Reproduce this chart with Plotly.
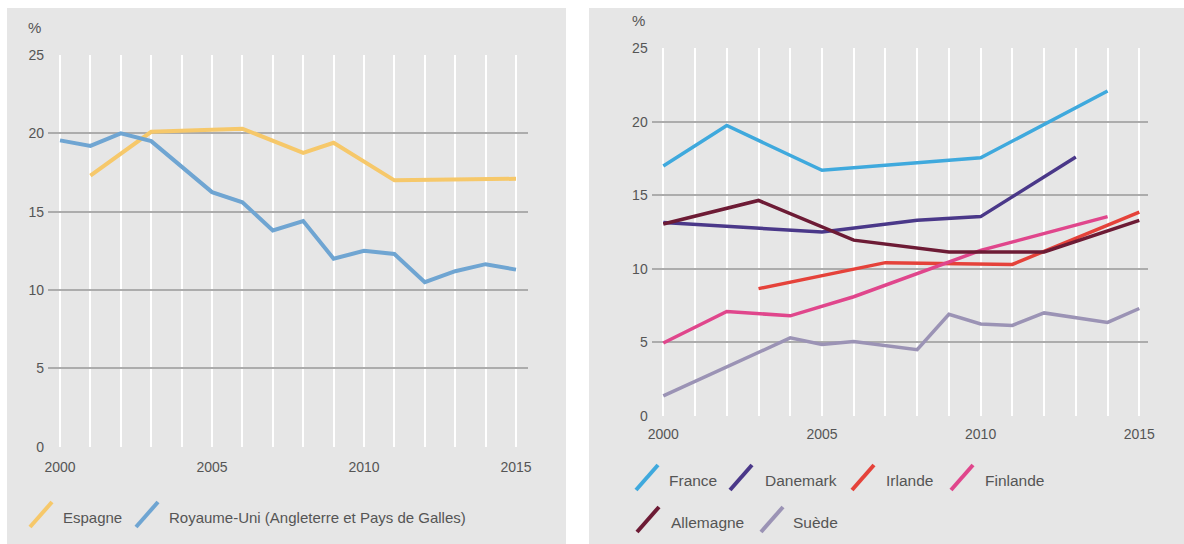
import plotly.graph_objects as go

# ---------------- data (left panel) ----------------
left_names = ["Espagne", "Royaume-Uni (Angleterre et Pays de Galles)"]
es_years = [2001, 2003, 2006, 2008, 2009, 2011, 2015]
es_values = [17.3, 20.1, 20.3, 18.75, 19.4, 17.0, 17.1]
uk_years = [2000, 2001, 2002, 2003, 2005, 2006, 2007, 2008, 2009, 2010, 2011, 2012, 2013, 2014, 2015]
uk_values = [19.55, 19.2, 20.0, 19.5, 16.25, 15.6, 13.8, 14.4, 12.0, 12.5, 12.3, 10.5, 11.2, 11.65, 11.3]

# ---------------- data (right panel) ----------------
right_names = ["France", "Danemark", "Irlande", "Finlande", "Allemagne", "Suède"]
fr_years = [2000, 2002, 2005, 2010, 2014]
fr_values = [17.0, 19.75, 16.7, 17.55, 22.1]
dk_years = [2000, 2005, 2008, 2010, 2013]
dk_values = [13.15, 12.5, 13.3, 13.55, 17.6]
ie_years = [2003, 2007, 2011, 2015]
ie_values = [8.65, 10.42, 10.3, 13.85]
fi_years = [2000, 2002, 2004, 2006, 2010, 2014]
fi_values = [4.95, 7.1, 6.8, 8.1, 11.25, 13.55]
de_years = [2000, 2003, 2006, 2009, 2012, 2015]
de_values = [13.05, 14.65, 11.95, 11.15, 11.15, 13.3]
se_years = [2000, 2004, 2005, 2006, 2008, 2009, 2010, 2011, 2012, 2014, 2015]
se_values = [1.35, 5.3, 4.85, 5.05, 4.5, 6.9, 6.25, 6.15, 7.0, 6.35, 7.3]

y_ticks = [0, 5, 10, 15, 20, 25]
x_ticks = [2000, 2005, 2010, 2015]
all_years = list(range(2000, 2016))

# ---------------- styling ----------------
W, H = 1184, 544
FONT = "Liberation Sans, Arial, sans-serif"
TXT = "#555555"
BG = "#e6e6e6"
GRID_H = "#acacac"

left_colors = ["#f6c86a", "#6fa5d2"]
right_colors = ["#3fa9dd", "#4a3889", "#e5423a", "#e0468c", "#6d1b35", "#9b93b5"]


def px(x):
    return min(max(x / W, 0), 1)


def py(y):
    return min(max((H - y) / H, 0), 1)


fig = go.Figure()

left_series = [(es_years, es_values), (uk_years, uk_values)]
for name, (xs, ys), c in zip(left_names, left_series, left_colors):
    fig.add_trace(go.Scatter(x=xs, y=ys, name=name, mode="lines",
                             line=dict(color=c, width=4), xaxis="x", yaxis="y",
                             showlegend=False))

right_series = [(fr_years, fr_values), (dk_years, dk_values), (ie_years, ie_values),
                (fi_years, fi_values), (de_years, de_values), (se_years, se_values)]
for name, (xs, ys), c in zip(right_names, right_series, right_colors):
    fig.add_trace(go.Scatter(x=xs, y=ys, name=name, mode="lines",
                             line=dict(color=c, width=3.5), xaxis="x2", yaxis="y2",
                             showlegend=False))

# panel geometry (page pixels)
L = dict(x0=48, x1=527.7, ytop=55, ybot=446.7, yr0=12 / 30.4, yr1=11.7 / 30.4)
R = dict(x0=651.7, x1=1148.3, ytop=48.3, ybot=415.8, yr0=11.6 / 31.73, yr1=9 / 31.73)

tickfont = dict(family=FONT, size=14, color=TXT)


def xaxis_cfg(geom, anchor, ticklen):
    return dict(domain=[px(geom["x0"]), px(geom["x1"])],
                range=[2000 - geom["yr0"], 2015 + geom["yr1"]],
                tickmode="array", tickvals=x_ticks, ticktext=[str(t) for t in x_ticks],
                showgrid=False, zeroline=False, showline=False,
                ticks="outside", ticklen=ticklen, tickcolor="rgba(0,0,0,0)",
                tickfont=tickfont, anchor=anchor,
                minor=dict(showgrid=True, gridcolor="white", gridwidth=1.6,
                           tickmode="array", tickvals=all_years, ticks=""))


def yaxis_cfg(geom, anchor):
    return dict(domain=[py(geom["ybot"]), py(geom["ytop"])], range=[0, 25],
                tickmode="array", tickvals=y_ticks,
                showgrid=True, gridcolor=GRID_H, gridwidth=1.6,
                zeroline=False, showline=False, ticks="", tickfont=tickfont,
                anchor=anchor, ticklabelstandoff=3)


def yaxis_right_cfg(over, anchor):
    return dict(range=[0, 25], tickmode="array", tickvals=y_ticks, overlaying=over,
                side="right", anchor=anchor, showgrid=False, zeroline=False,
                showline=False, ticks="", tickfont=tickfont, ticklabelstandoff=5)


# no explicit width/height: the figure autosizes to its 1184x544 div
fig.update_layout(
    autosize=True,
    margin=dict(l=0, r=0, t=0, b=0, autoexpand=False),
    paper_bgcolor="white",
    plot_bgcolor="rgba(0,0,0,0)",
    showlegend=False,
    xaxis=xaxis_cfg(L, "y", 7),
    yaxis=yaxis_cfg(L, "x"),
    yaxis3=yaxis_right_cfg("y", "x"),
    xaxis2=xaxis_cfg(R, "y2", 5),
    yaxis2=yaxis_cfg(R, "x2"),
    yaxis4=yaxis_right_cfg("y2", "x2"),
)

shapes = []
# panel backgrounds
shapes.append(dict(type="rect", xref="paper", yref="paper", layer="below",
                   x0=px(7), x1=px(566), y0=py(544), y1=py(8),
                   fillcolor=BG, line=dict(width=0)))
shapes.append(dict(type="rect", xref="paper", yref="paper", layer="below",
                   x0=px(589), x1=px(1184), y0=py(544), y1=py(8),
                   fillcolor=BG, line=dict(width=0)))

annotations = []
# "%" labels
annotations.append(dict(text="%", x=px(34), y=py(27), xref="paper", yref="paper",
                        showarrow=False, font=dict(family=FONT, size=15, color=TXT),
                        xanchor="center", yanchor="middle"))
annotations.append(dict(text="%", x=px(638), y=py(21), xref="paper", yref="paper",
                        showarrow=False, font=dict(family=FONT, size=15, color=TXT),
                        xanchor="center", yanchor="middle"))

# legend entries: (slash x-left, row y-center, text x), page pixels
left_legend_pos = [(30, 515, 61), (136, 515, 167)]
right_legend_pos = [(636, 478, 667), (730, 478, 763), (852, 478, 884), (951, 478, 983),
                    (637, 520, 669), (761, 520, 791)]


def add_legend(names, colors, positions, size):
    for name, c, (sx, cy, tx) in zip(names, colors, positions):
        shapes.append(dict(type="line", xref="paper", yref="paper",
                           x0=px(sx), y0=py(cy + 12), x1=px(sx + 22), y1=py(cy - 13),
                           line=dict(color=c, width=4)))
        annotations.append(dict(text=name, x=px(tx), y=py(cy + 2), xref="paper",
                                yref="paper", showarrow=False,
                                font=dict(family=FONT, size=size, color=TXT),
                                xanchor="left", yanchor="middle"))


add_legend(left_names, left_colors, left_legend_pos, 15)
add_legend(right_names, right_colors, right_legend_pos, 15.5)

fig.update_layout(shapes=shapes, annotations=annotations)

# pin the graph div to the window's top-left corner (outside the body margin)
fig.write_html("out.html", config={"displayModeBar": False},
               default_width=f"{W}px;position:fixed;left:0;top:0",
               default_height=f"{H}px")
